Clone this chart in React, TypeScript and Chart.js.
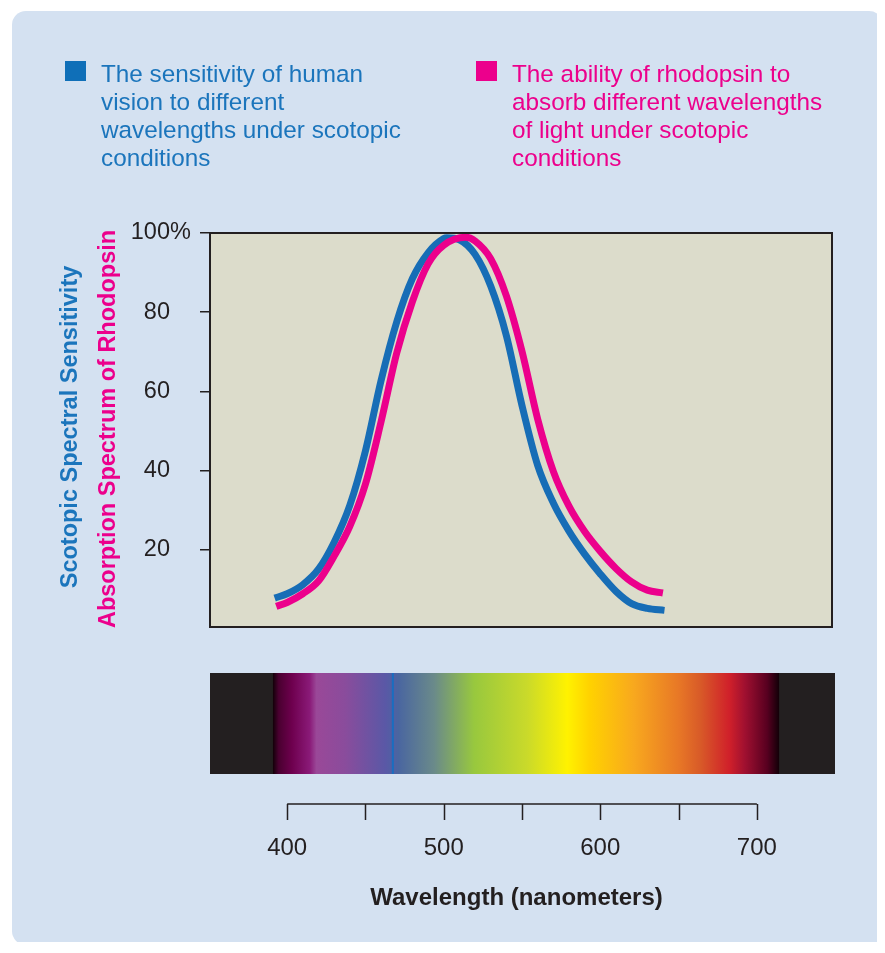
import { useEffect, useRef } from 'react';
import { Chart, registerables } from 'chart.js';

Chart.register(...registerables);

// ---- data ----
const scotopicWavelengths = [392, 400, 410, 420, 430, 440, 450, 460, 470, 480, 490, 500, 502, 510, 520, 530, 540, 550, 560, 570, 580, 590, 600, 610, 620, 630, 641];
const scotopicValues = [7.8, 8.9, 11.2, 15.1, 21.9, 31.2, 45.0, 62.8, 77.6, 88.5, 95.0, 98.6, 98.8, 98.3, 94.6, 86.6, 74.1, 56.4, 41.3, 31.8, 24.7, 18.9, 13.9, 9.5, 6.4, 5.2, 4.7];

const rhodopsinWavelengths = [393, 400, 410, 420, 430, 440, 450, 460, 470, 480, 490, 500, 514, 520, 530, 540, 550, 560, 570, 580, 590, 600, 610, 620, 630, 640];
const rhodopsinValues = [5.7, 6.7, 8.9, 12.1, 18.4, 25.9, 36.6, 52.4, 69.7, 82.7, 92.2, 96.9, 98.9, 98.0, 93.5, 84.1, 70.1, 53.0, 39.8, 31.0, 24.6, 19.6, 15.3, 11.9, 9.8, 9.1];

const yTickValues = [20, 40, 60, 80, 100];
const xTickValues = [400, 450, 500, 550, 600, 650, 700];
const xTickLabels = ['400', '', '500', '', '600', '', '700'];

const spectrumStops: [number, string][] = [
  [390.9, '#120008'],
  [394.6, '#4a0030'],
  [403, '#6e004e'],
  [414.4, '#8a1a78'],
  [418.7, '#9a4898'],
  [437, '#8a4c9c'],
  [462.7, '#5a58a6'],
  [471.2, '#4a66a0'],
  [493.8, '#6a8a8a'],
  [519.4, '#98c83e'],
  [553.4, '#cada2a'],
  [578.9, '#fff200'],
  [593.1, '#ffd200'],
  [621.5, '#f8a81e'],
  [649.8, '#e87826'],
  [664, '#d85a28'],
  [682.4, '#d0202a'],
  [692.3, '#a01030'],
  [706.5, '#580020'],
  [714.2, '#120008'],
];
const spectrumMarker = 467.5;

const legendScotopic = ['The sensitivity of human', 'vision to different', 'wavelengths under scotopic', 'conditions'];
const legendRhodopsin = ['The ability of rhodopsin to', 'absorb different wavelengths', 'of light under scotopic', 'conditions'];
const yTitleScotopic = 'Scotopic Spectral Sensitivity';
const yTitleRhodopsin = 'Absorption Spectrum of Rhodopsin';
const xTitle = 'Wavelength (nanometers)';

// ---- styles ----
const BLUE = '#176db6';
const BLUE_TEXT = '#1b75bc';
const MAGENTA = '#ec008c';
const DARK = '#231f20';
const PLOT_BG = '#dcdccb';
const PANEL_BG = '#d4e1f1';
const FONT = "'Liberation Sans', Arial, Helvetica, sans-serif";

const W = 871;
const H = 934;

const decor = {
  id: 'decor',
  beforeDraw(chart: any) {
    const { ctx, chartArea: a } = chart;
    ctx.save();
    ctx.fillStyle = PLOT_BG;
    ctx.fillRect(a.left, a.top, a.right - a.left, a.bottom - a.top);
    ctx.restore();
  },
  afterDraw(chart: any) {
    const { ctx, chartArea: a } = chart;
    const xs = chart.scales.x;
    const ys = chart.scales.y;
    ctx.save();

    // plot frame
    ctx.strokeStyle = DARK;
    ctx.lineWidth = 2;
    ctx.strokeRect(a.left, a.top, a.right - a.left, a.bottom - a.top);

    // "%" after the 100 tick label
    ctx.fillStyle = DARK;
    ctx.font = `23.5px ${FONT}`;
    ctx.textAlign = 'left';
    ctx.textBaseline = 'middle';
    ctx.fillText('%', ys.right - 10 - 30, ys.getPixelForValue(100));

    // spectrum band
    const bandTop = 662;
    const bandH = 101;
    ctx.fillStyle = DARK;
    ctx.fillRect(a.left, bandTop, a.right + 3 - a.left, bandH);
    const p0 = xs.getPixelForValue(spectrumStops[0][0]);
    const p1 = xs.getPixelForValue(spectrumStops[spectrumStops.length - 1][0]);
    const g = ctx.createLinearGradient(p0, 0, p1, 0);
    spectrumStops.forEach(([wl, c]) => {
      g.addColorStop(Math.min(1, Math.max(0, (xs.getPixelForValue(wl) - p0) / (p1 - p0))), c);
    });
    ctx.fillStyle = g;
    ctx.fillRect(p0, bandTop, p1 - p0, bandH);
    const pm = xs.getPixelForValue(spectrumMarker);
    ctx.fillStyle = '#1a6ec0';
    ctx.fillRect(pm - 1, bandTop, 2, bandH);

    // bracket axis
    const axY = 793;
    ctx.strokeStyle = DARK;
    ctx.lineWidth = 1.5;
    ctx.beginPath();
    ctx.moveTo(xs.getPixelForValue(xTickValues[0]), axY);
    ctx.lineTo(xs.getPixelForValue(xTickValues[xTickValues.length - 1]), axY);
    xTickValues.forEach((v) => {
      const px = Math.round(xs.getPixelForValue(v)) + 0.5;
      ctx.moveTo(px, axY);
      ctx.lineTo(px, axY + 16);
    });
    ctx.stroke();
    ctx.fillStyle = DARK;
    ctx.font = `24px ${FONT}`;
    ctx.textAlign = 'center';
    ctx.textBaseline = 'alphabetic';
    xTickValues.forEach((v, i) => {
      if (xTickLabels[i]) ctx.fillText(xTickLabels[i], xs.getPixelForValue(v), 844);
    });
    ctx.font = `bold 24px ${FONT}`;
    ctx.fillText(xTitle, 504.5, 894);

    // y-axis titles (rotated)
    const midY = (a.top + a.bottom) / 2;
    ctx.font = `bold 23.5px ${FONT}`;
    ctx.textAlign = 'center';
    ctx.textBaseline = 'middle';
    ctx.save();
    ctx.translate(59, midY - 3);
    ctx.rotate(-Math.PI / 2);
    ctx.fillStyle = BLUE_TEXT;
    ctx.fillText(yTitleScotopic, 0, 0);
    ctx.restore();
    ctx.save();
    ctx.translate(97, midY - 1);
    ctx.rotate(-Math.PI / 2);
    ctx.fillStyle = MAGENTA;
    ctx.fillText(yTitleRhodopsin, 0, 0);
    ctx.restore();

    // legend
    const drawLegend = (sx: number, color: string, textColor: string, lines: string[]) => {
      ctx.fillStyle = color;
      ctx.fillRect(sx, 50, 21, 20);
      ctx.fillStyle = textColor;
      ctx.font = `24.3px ${FONT}`;
      ctx.textAlign = 'left';
      ctx.textBaseline = 'alphabetic';
      lines.forEach((ln, i) => ctx.fillText(ln, sx + 36, 71 + i * 28));
    };
    drawLegend(53, '#0f6fb8', BLUE_TEXT, legendScotopic);
    drawLegend(464, MAGENTA, MAGENTA, legendRhodopsin);

    ctx.restore();
  },
};

export default function App() {
  const ref = useRef<HTMLCanvasElement | null>(null);

  useEffect(() => {
    document.documentElement.style.overflow = 'hidden';
    if (!ref.current) return;
    const chart = new Chart(ref.current, {
      type: 'line',
      data: {
        datasets: [
          {
            label: 'Absorption Spectrum of Rhodopsin',
            data: rhodopsinWavelengths.map((x, i) => ({ x, y: rhodopsinValues[i] })),
            borderColor: MAGENTA,
            borderWidth: 7,
            pointRadius: 0,
            cubicInterpolationMode: 'monotone',
            borderCapStyle: 'butt',
            borderJoinStyle: 'round',
            fill: false,
          },
          {
            label: 'Scotopic Spectral Sensitivity',
            data: scotopicWavelengths.map((x, i) => ({ x, y: scotopicValues[i] })),
            borderColor: BLUE,
            borderWidth: 7,
            pointRadius: 0,
            cubicInterpolationMode: 'monotone',
            borderCapStyle: 'butt',
            borderJoinStyle: 'round',
            fill: false,
          },
        ],
      },
      options: {
        animation: false,
        responsive: false,
        devicePixelRatio: 1,
        layout: { padding: { left: 0, top: 222, right: 51, bottom: 318 } },
        plugins: { legend: { display: false }, tooltip: { enabled: false } },
        scales: {
          x: { type: 'linear', min: 350.7, max: 748, display: false },
          y: {
            type: 'linear',
            min: 0.5,
            max: 100,
            afterBuildTicks: (s: any) => {
              s.ticks = yTickValues.map((v) => ({ value: v }));
            },
            afterFit: (s: any) => {
              s.width = 198;
            },
            grid: { display: true, drawOnChartArea: false, drawTicks: true, tickLength: 10, color: DARK, lineWidth: 1.5 },
            border: { display: false },
            ticks: {
              color: DARK,
              font: { family: FONT, size: 23.5 },
              padding: 30,
              callback: (v: any) => String(v),
            },
          },
        },
      },
      plugins: [decor],
    } as any);
    return () => chart.destroy();
  }, []);

  return (
    <div
      style={{
        position: 'relative',
        left: 4,
        top: 3,
        width: W,
        height: H,
        background: PANEL_BG,
        borderRadius: 14,
      }}
    >
      <canvas ref={ref} width={W} height={H} style={{ display: 'block', width: W, height: H }} />
    </div>
  );
}
